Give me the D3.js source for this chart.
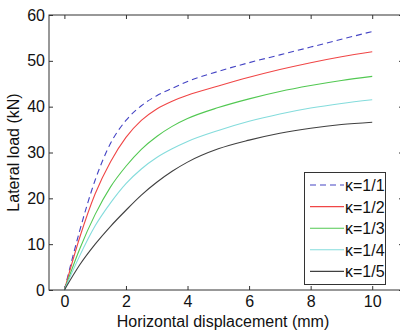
<!DOCTYPE html>
<html>
<head>
<meta charset="utf-8">
<script src="https://cdn.jsdelivr.net/npm/d3@7"></script>
<style>
  body { margin: 0; background: #fff; }
  svg { display: block; font-family: "Liberation Sans", Arial, sans-serif; }
</style>
</head>
<body>
<div id="chart"></div>
<script>
// displacement (mm)
const disp = [0, 0.5, 1, 1.5, 2, 2.5, 3, 3.5, 4, 5, 6, 7, 8, 9, 10];

// lateral load (kN) per kappa
const k1 = [0, 13.0, 24.0, 32.0, 37.0, 40.2, 42.4, 44.0, 45.5, 47.7, 49.6, 51.3, 53.0, 54.7, 56.4];
const k2 = [0, 11.5, 21.0, 28.0, 33.3, 37.0, 39.5, 41.2, 42.5, 44.5, 46.4, 48.1, 49.6, 50.9, 52.0];
const k3 = [0, 9.0, 16.5, 22.5, 27.0, 30.7, 33.5, 35.7, 37.4, 39.8, 41.7, 43.3, 44.6, 45.7, 46.6];
const k4 = [0, 7.5, 14.0, 19.0, 23.2, 26.4, 28.9, 30.8, 32.4, 34.8, 36.8, 38.4, 39.7, 40.7, 41.5];
const k5 = [0, 5.5, 10.0, 13.9, 17.4, 20.7, 23.5, 25.9, 27.9, 30.8, 32.7, 34.2, 35.3, 36.1, 36.6];

const seriesNames = ['\u03ba=1/1', '\u03ba=1/2', '\u03ba=1/3', '\u03ba=1/4', '\u03ba=1/5'];
const seriesColors = ['#4444c4', '#f04646', '#52c852', '#84dcdc', '#404040'];
const seriesDash = ['6,4', null, null, null, null];

const xTicks = [0, 2, 4, 6, 8, 10];
const yTicks = [0, 10, 20, 30, 40, 50, 60];

const W = 400, H = 334;
const mLeft = 49, mTop = 15, mRight = 403, mBottom = 290;

const svg = d3.select('#chart').append('svg')
  .attr('width', W).attr('height', H);

const x = d3.scaleLinear().domain([-0.5, 11]).range([mLeft, mRight]);
const y = d3.scaleLinear().domain([0, 60]).range([mBottom, mTop]);

const axisColor = '#333';

// axes (ticks inward, like matlab)
const gx = svg.append('g').attr('transform', `translate(0,${mBottom})`)
  .call(d3.axisBottom(x).tickValues(xTicks).tickSize(-4).tickPadding(6).tickSizeOuter(0));
const gxTop = svg.append('g').attr('transform', `translate(0,${mTop})`)
  .call(d3.axisTop(x).tickValues(xTicks).tickSize(-4).tickFormat('').tickSizeOuter(0));
const gy = svg.append('g').attr('transform', `translate(${mLeft},0)`)
  .call(d3.axisLeft(y).tickValues(yTicks).tickSize(-4).tickPadding(4).tickSizeOuter(0));
const gyRight = svg.append('g').attr('transform', `translate(${mRight},0)`)
  .call(d3.axisRight(y).tickValues(yTicks).tickSize(-4).tickFormat('').tickSizeOuter(0));

[gx, gxTop, gy, gyRight].forEach(g => {
  g.select('.domain').remove();
  g.selectAll('line').attr('stroke', axisColor);
  g.selectAll('text').attr('fill', '#111').style('font-size', '16px')
    .style('font-family', '"Liberation Sans", Arial, sans-serif');
});

// frame
svg.append('rect')
  .attr('x', mLeft).attr('y', mTop)
  .attr('width', mRight - mLeft).attr('height', mBottom - mTop)
  .attr('fill', 'none').attr('stroke', axisColor).attr('stroke-width', 1);

// curves
const allSeries = [k1, k2, k3, k4, k5];
const line = d3.line()
  .x((d, i) => x(disp[i]))
  .y(d => y(d))
  .curve(d3.curveMonotoneX);

svg.append('g').selectAll('path')
  .data(allSeries)
  .enter().append('path')
  .attr('d', line)
  .attr('fill', 'none')
  .attr('stroke', (d, i) => seriesColors[i])
  .attr('stroke-width', 1.1)
  .attr('stroke-dasharray', (d, i) => seriesDash[i]);

// axis titles
svg.append('text')
  .attr('x', 223).attr('y', 327)
  .attr('text-anchor', 'middle')
  .style('font-size', '16px').attr('fill', '#111')
  .text('Horizontal displacement (mm)');

svg.append('text')
  .attr('transform', `translate(18.5,${(mTop + mBottom) / 2}) rotate(-90)`)
  .attr('text-anchor', 'middle')
  .style('font-size', '16px').attr('fill', '#111')
  .text('Lateral load (kN)');

// legend
const legend = svg.append('g');
legend.append('rect')
  .attr('x', 304.5).attr('y', 172.5)
  .attr('width', 81).attr('height', 112)
  .attr('fill', '#fff').attr('stroke', axisColor);

const items = legend.selectAll('.legend-item')
  .data(seriesNames)
  .enter().append('g')
  .attr('class', 'legend-item')
  .attr('transform', (d, i) => `translate(0,${185 + i * 21.6})`);

items.append('line')
  .attr('x1', 310).attr('x2', 344)
  .attr('stroke', (d, i) => seriesColors[i])
  .attr('stroke-width', 1.1)
  .attr('stroke-dasharray', (d, i) => seriesDash[i]);

items.append('text')
  .attr('x', 345).attr('y', 6)
  .style('font-size', '16px').attr('fill', '#111')
  .text(d => d);
</script>
</body>
</html>
